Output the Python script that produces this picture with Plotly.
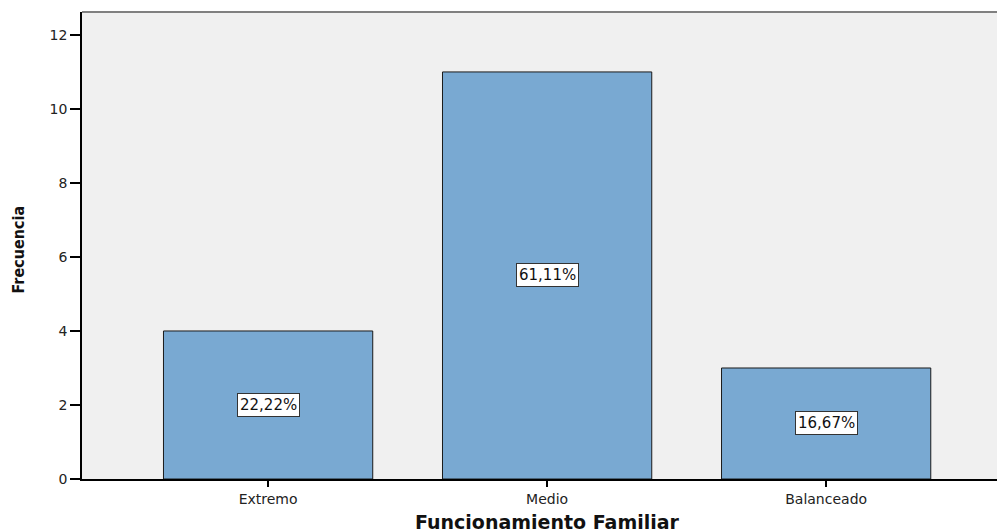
import plotly.graph_objects as go

# data
categories = ["Extremo", "Medio", "Balanceado"]
counts = [4, 11, 3]
pct_labels = ["22,22%", "61,11%", "16,67%"]

base_font = "DejaVu Sans, Verdana, sans-serif"

fig = go.Figure()
fig.add_trace(go.Bar(
    x=categories, y=counts,
    marker=dict(color="#79a9d2", line=dict(color="#1a1a1a", width=1)),
    width=0.75,
    hoverinfo="skip",
))

# percentage boxes in the middle of each bar
for c, v, t in zip(categories, counts, pct_labels):
    fig.add_annotation(
        x=c, y=v / 2, text=t, showarrow=False,
        font=dict(family=base_font, size=15, color="#111"),
        bgcolor="white", bordercolor="#333", borderwidth=1, borderpad=2,
    )

# axis titles placed by hand
fig.add_annotation(
    xref="paper", yref="paper", x=0, y=0.5, xshift=-64, yshift=-4, textangle=-90,
    xanchor="center", yanchor="middle",
    text="<b>Frecuencia</b>", showarrow=False,
    font=dict(family="DejaVu Sans Condensed, Arial Narrow, sans-serif", size=16, color="#111"),
)
fig.add_annotation(
    xref="paper", yref="paper", x=0.504, y=0, yshift=-43,
    xanchor="center", yanchor="middle",
    text="<b>Funcionamiento Familiar</b>", showarrow=False,
    font=dict(family=base_font, size=19, color="#111"),
)

# grey top frame line
fig.add_shape(type="line", xref="paper", yref="paper", x0=0, x1=1, y0=1, y1=1,
              line=dict(color="#808080", width=2))

# page has an 8px body margin, so the figure is sized to fit the window
fig.update_layout(
    width=997, height=524,
    margin=dict(l=74, r=0, t=4, b=53),
    paper_bgcolor="white", plot_bgcolor="#f0f0f0",
    showlegend=False,
    font=dict(family=base_font, size=12, color="#222"),
)
fig.update_xaxes(
    range=[-0.667, 2.641], automargin=False,
    showline=True, linecolor="black", linewidth=1.5,
    ticks="outside", ticklen=6, tickcolor="black", tickwidth=1.5,
    showgrid=False, zeroline=False,
    tickfont=dict(size=14),
)
fig.update_yaxes(
    range=[0, 12.62], automargin=False,
    tickvals=[0, 2, 4, 6, 8, 10, 12],
    showline=True, linecolor="black", linewidth=1.5,
    ticks="outside", ticklen=10, tickcolor="black", tickwidth=1.5,
    showgrid=False, zeroline=False,
    tickfont=dict(size=14),
)

fig.write_html("out.html")
